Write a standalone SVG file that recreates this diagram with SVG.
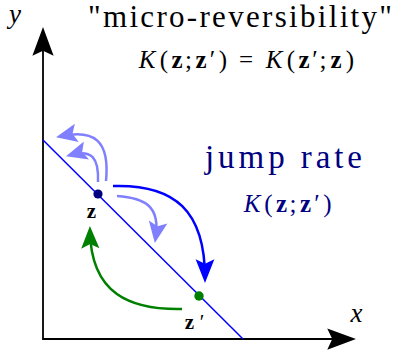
<svg xmlns="http://www.w3.org/2000/svg" width="407" height="354" viewBox="0 0 407 354">
<style>
text{font-family:"Liberation Serif","DejaVu Serif",serif;}
.it{font-style:italic;}
.bf{font-weight:bold;}
.ax{fill:none;stroke:#000;stroke-width:1.8;}
.conn{fill:none;stroke-width:2.5;}
</style>
<defs>
<marker id="ahBlack" markerUnits="userSpaceOnUse" orient="auto-start-reverse" refX="0" refY="0" markerWidth="40" markerHeight="40" viewBox="-25 -12 32 24" overflow="visible">
<path d="M4,0 L-19,-8.5 L-15,0 L-19,8.5 Z" fill="#000"/>
</marker>
<marker id="ahBlue" markerUnits="userSpaceOnUse" orient="auto" refX="0" refY="0" markerWidth="40" markerHeight="40" viewBox="-25 -12 32 24" overflow="visible">
<path d="M4,0 L-15,-7.5 L-11.5,0 L-15,7.5 Z" fill="#0000ff"/>
</marker>
<marker id="ahLight" markerUnits="userSpaceOnUse" orient="auto" refX="0" refY="0" markerWidth="40" markerHeight="40" viewBox="-25 -12 32 24" overflow="visible">
<path d="M4,0 L-13,-7.5 L-9.5,0 L-13,7.5 Z" fill="#8080ff"/>
</marker>
<marker id="ahGreen" markerUnits="userSpaceOnUse" orient="auto" refX="0" refY="0" markerWidth="40" markerHeight="40" viewBox="-25 -12 32 24" overflow="visible">
<path d="M4,0 L-14,-7.3 L-10.5,0 L-14,7.3 Z" fill="#008000"/>
</marker>
</defs>
<rect width="407" height="354" fill="#fff"/>

<g id="axes">
<path class="ax" d="M43,32 V339 H351" marker-start="url(#ahBlack)" marker-end="url(#ahBlack)"/>
<text class="it" x="15" y="23" font-size="27" text-anchor="middle">y</text>
<text class="it" x="356.5" y="322" font-size="27" text-anchor="middle">x</text>
</g>

<g id="diagonal">
<line x1="43" y1="140" x2="243" y2="339" stroke="#0000ff" stroke-width="1.5"/>
</g>

<g id="connectors">
<path class="conn" stroke="#8080ff" d="M106,181 C110,140 93.9,129.2 60.9,136.2" marker-end="url(#ahLight)"/>
<path class="conn" stroke="#8080ff" d="M98,182 C99,158 91.8,148.9 70.8,154.9" marker-end="url(#ahLight)"/>
<path class="conn" stroke="#8080ff" d="M117,196 C145,198 160.6,206 155.6,238" marker-end="url(#ahLight)"/>
<path class="conn" stroke="#0000ff" d="M113,186 C175,184 205,211 205,278" marker-end="url(#ahBlue)"/>
<path class="conn" stroke="#008000" d="M182,309 C130,310 91,294 90,231" marker-end="url(#ahGreen)"/>
</g>

<g id="node-z">
<circle cx="98" cy="194" r="4.6" fill="#000080"/>
<text class="bf" x="91.5" y="218" font-size="21" text-anchor="middle">z</text>
</g>

<g id="node-zprime">
<circle cx="199" cy="296" r="4.7" fill="#008000"/>
<text class="bf" font-size="21" y="329"><tspan x="189.5" text-anchor="middle">z</tspan><tspan x="202" text-anchor="middle" font-weight="normal">′</tspan></text>
</g>

<g id="title">
<text x="88" y="27" font-size="31" textLength="304" lengthAdjust="spacing">"micro-reversibility"</text>
<text y="68" font-size="25" text-anchor="middle"><tspan x="147" class="it">K</tspan><tspan x="164">(</tspan><tspan x="177" class="bf">z</tspan><tspan x="188.5">;</tspan><tspan x="201" class="bf">z</tspan><tspan x="212.5">′</tspan><tspan x="223">)</tspan><tspan x="246">=</tspan><tspan x="274" class="it">K</tspan><tspan x="291">(</tspan><tspan x="304" class="bf">z</tspan><tspan x="315">′</tspan><tspan x="323">;</tspan><tspan x="336" class="bf">z</tspan><tspan x="350">)</tspan></text>
</g>

<g id="jump-rate" fill="#000080">
<text x="205" y="168" font-size="33" textLength="157" lengthAdjust="spacing">jump rate</text>
<text y="212" font-size="25" text-anchor="middle"><tspan x="252" class="it">K</tspan><tspan x="268.5">(</tspan><tspan x="281.5" class="bf">z</tspan><tspan x="293">;</tspan><tspan x="305.5" class="bf">z</tspan><tspan x="317">′</tspan><tspan x="327.5">)</tspan></text>
</g>
</svg>
